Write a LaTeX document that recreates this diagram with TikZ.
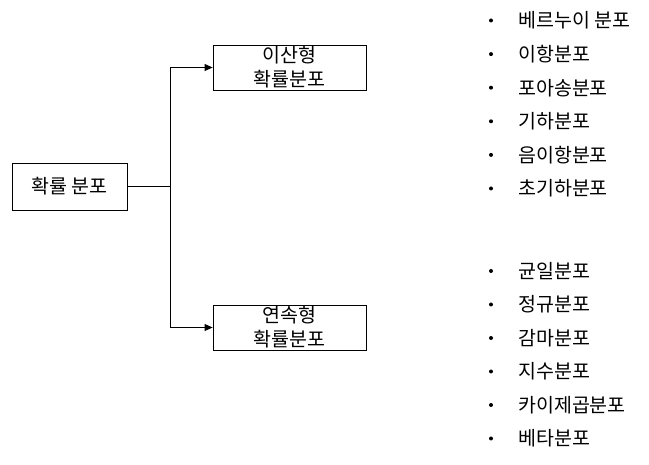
\documentclass[tikz,border=0pt]{standalone}
\usepackage{fontspec}
\newfontfamily\kr{Noto Sans CJK KR}
\usetikzlibrary{positioning, arrows.meta}

\begin{document}
\begin{tikzpicture}[
  x=1pt, y=-1pt,
  box/.style={rectangle, draw=black, line width=0.8pt,
              align=center, inner sep=0pt,
              font=\kr\fontsize{19.5}{24}\selectfont},
  arrow/.style={-{Triangle[length=8pt, width=7pt]}, line width=0.8pt},
  item/.style={anchor=west, inner sep=0pt, font=\kr\fontsize{19.5}{21}\selectfont},
  dot/.style={circle, fill=black, inner sep=0pt, minimum size=4pt}
]
\useasboundingbox (0,0) rectangle (649,465);

% Root and the two kinds
\node[box, minimum width=115pt, minimum height=47pt] (root) at (69.5,186.5) {확률 분포};
\node[box, minimum width=153pt, minimum height=45pt] (disc) at (289.5,67.5) {이산형\\확률분포};
\node[box, minimum width=153pt, minimum height=45pt] (cont) at (289.5,327.5) {연속형\\확률분포};

% Branching connector
\coordinate (split) at (170,186.5);
\draw[line width=0.8pt] (root.east) -- (split);
\draw[arrow] (split) |- (disc.west);
\draw[arrow] (split) |- (cont.west);

% Discrete distributions
\foreach \name [count=\i from 0] in {베르누이 분포, 이항분포, 포아송분포, 기하분포, 음이항분포, 초기하분포} {
  \node[dot] (dd\i) at (491,{20.5+33.6*\i}) {};
  \node[item] (d\i) at (518,{20.5+33.6*\i}) {\name};
}

% Continuous distributions
\foreach \name [count=\i from 0] in {균일분포, 정규분포, 감마분포, 지수분포, 카이제곱분포, 베타분포} {
  \node[dot] (cd\i) at (491,{271+33.5*\i}) {};
  \node[item] (c\i) at (518,{271+33.5*\i}) {\name};
}

\end{tikzpicture}
\end{document}
